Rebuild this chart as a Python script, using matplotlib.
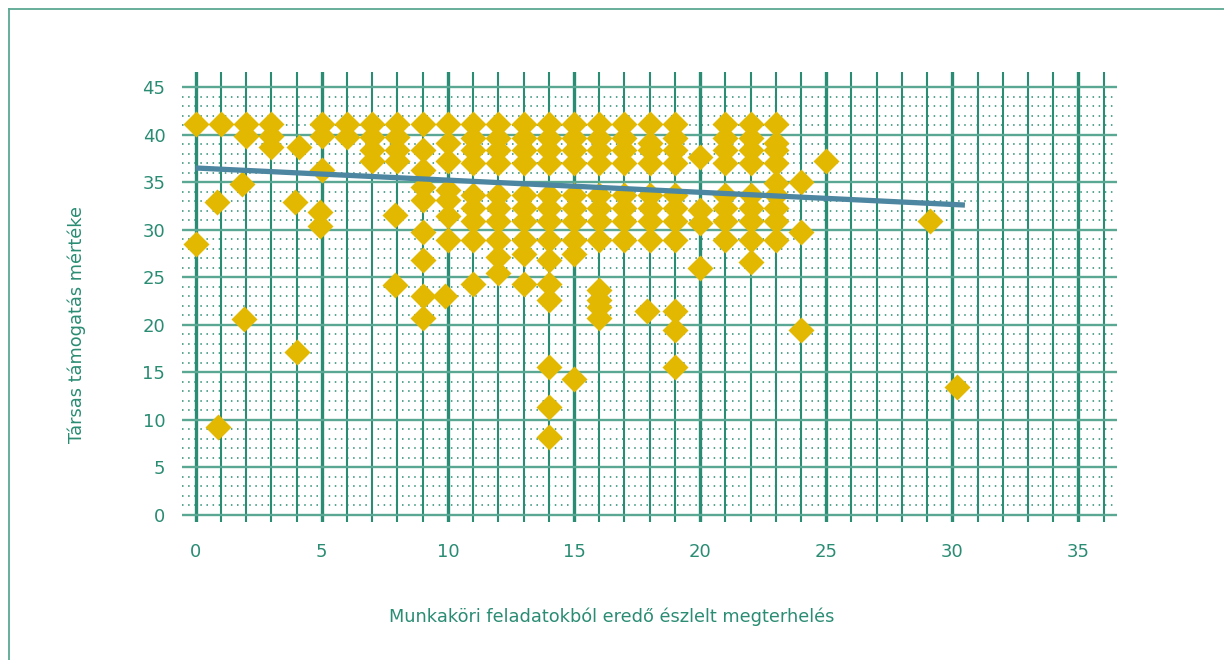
import numpy as np
import matplotlib
matplotlib.use('Agg')
import matplotlib.pyplot as plt
from matplotlib.lines import Line2D

# --- data --------------------------------------------------------------
top = [41.1, 39.7, 38.4, 37.0]
low = [33.7, 32.3, 30.9, 28.9]

columns = {
    0: [41.1, 28.5],
    1: [41.1],
    2: [41.1, 39.9],
    3: [41.1, 39.9, 38.7],
    5: [41.1, 39.9, 36.3],
    6: [41.1, 39.8],
    7: [41.1, 39.8, 38.4, 37.2],
    8: [41.1, 39.8, 38.4, 37.2],
    9: [41.1, 38.4, 36.3, 34.5, 33.1, 29.8, 26.8, 23.0, 20.7],
    10: [41.1, 39.1, 37.2, 34.2, 33.1, 31.4, 28.9],
    11: top + low + [24.3],
    12: top + low + [27.1, 25.4],
    13: top + low + [27.5, 24.3],
    14: top + low + [26.8, 24.3, 22.6, 15.6, 11.3, 8.2],
    15: top + low + [27.5],
    16: top + low + [23.7, 22.6, 21.9, 20.7],
    17: top + low,
    18: [41.1, 39.1, 38.4, 37.0] + low,
    19: top + low + [21.5, 19.5, 15.6],
    20: [37.7, 32.1, 30.7, 26.0],
    21: top + low,
    22: top + low + [26.6],
    23: [41.1, 39.1, 38.4, 37.0, 34.9] + low,
    24: [35.0, 29.8, 19.5],
    25: [37.2],
}
# points that sit slightly off the integer columns
extra_x = [0.85, 0.9, 1.85, 1.9, 4.1, 3.95, 4.0, 4.95, 4.95, 7.9, 7.9, 9.9, 15.0, 17.9, 29.1, 30.2]
extra_y = [32.9, 9.2, 34.8, 20.6, 38.7, 32.9, 17.1, 31.9, 30.4, 31.6, 24.2, 23.0, 14.3, 21.5, 30.9, 13.5]

# fitted trend line end points
trend_x = [0.0, 30.5]
trend_y = [36.5, 32.6]

xticks = [0, 5, 10, 15, 20, 25, 30, 35]
yticks = [0, 5, 10, 15, 20, 25, 30, 35, 40, 45]
xlabel = 'Munkaköri feladatokból eredő észlelt megterhelés'
ylabel = 'Társas támogatás mértéke'

green = '#2a8c73'
green_light = '#5aa893'
gold = '#e3b800'
blue = '#4d86a0'

px = [x for x, ys in columns.items() for _ in ys] + extra_x
py = [y for ys in columns.values() for y in ys] + extra_y

fig = plt.figure(figsize=(12.24, 6.6), dpi=100)
ax = fig.add_axes([0.1487, 0.2091, 0.7639, 0.6818])
ax.set_xlim(-0.54, 36.53)
ax.set_ylim(-0.75, 46.6)

# graph paper grid
for v in range(0, 37):
    ax.axvline(v, color=green, lw=2.4 if v % 5 == 0 else 1.5, zorder=1)
for h in range(0, 46):
    if h % 5 == 0:
        ax.axhline(h, color=green_light, lw=1.7, zorder=1)
    else:
        ax.axhline(h, color=green, lw=1.1, ls=(0, (1, 3)), zorder=1)

ax.plot(px, py, ls='none', marker='D', ms=13.5, color=gold, mec='none', zorder=3)
ax.plot(trend_x, trend_y, color=blue, lw=3.8, solid_capstyle='butt', zorder=4)

for s in ax.spines.values():
    s.set_visible(False)
ax.set_xticks(xticks)
ax.set_yticks(yticks)
ax.tick_params(length=0, labelsize=13, labelcolor=green)
ax.tick_params(axis='x', pad=15)
ax.tick_params(axis='y', pad=12)

fig.text(0.5, 0.065, xlabel, color=green, fontsize=12.8, ha='center', va='center')
fig.text(0.063, 0.509, ylabel, color=green, fontsize=12.8, ha='center', va='center', rotation=90)

# outer frame (top and left edges)
fig.add_artist(Line2D([9/1224, 1], [1 - 9/660, 1 - 9/660], transform=fig.transFigure, color=green_light, lw=1.3))
fig.add_artist(Line2D([9/1224, 9/1224], [0, 1 - 9/660], transform=fig.transFigure, color=green_light, lw=1.3))

fig.savefig('out.png', dpi=100)
